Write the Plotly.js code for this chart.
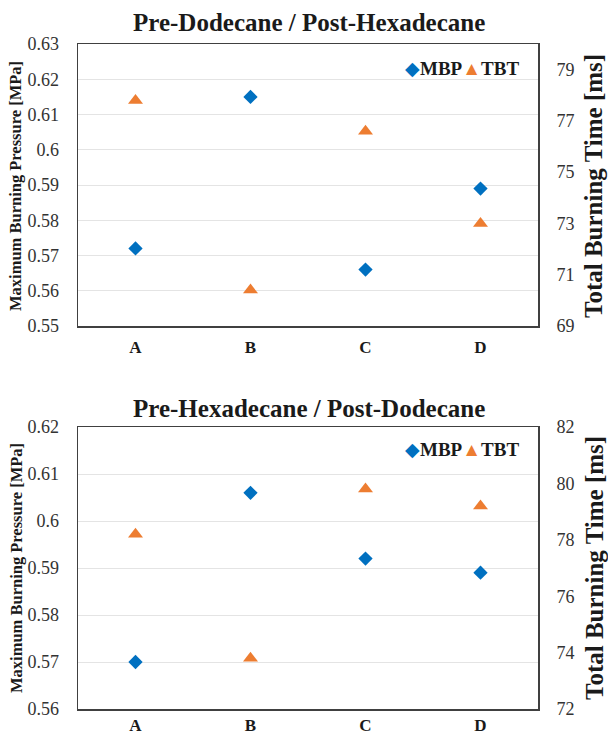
<!DOCTYPE html>
<html>
<head>
<meta charset="utf-8">
<script src="https://cdn.plot.ly/plotly-3.0.1.min.js"></script>
<style>html,body{margin:0;padding:0;background:#fff;}#chart{width:608px;height:738px;}</style>
</head>
<body>
<div id="chart"></div>
<script>
// ---- data ----
const categories = ['A', 'B', 'C', 'D'];
const topTitle = 'Pre-Dodecane / Post-Hexadecane';
const topMBP = [0.572, 0.615, 0.566, 0.589];
const topTBT = [77.8, 70.4, 76.6, 73.0];
const bottomTitle = 'Pre-Hexadecane / Post-Dodecane';
const bottomMBP = [0.570, 0.606, 0.592, 0.589];
const bottomTBT = [78.2, 73.8, 79.8, 79.2];
const topLeftTicks = [0.55, 0.56, 0.57, 0.58, 0.59, 0.6, 0.61, 0.62, 0.63];
const topLeftTickText = ['0.55', '0.56', '0.57', '0.58', '0.59', '0.6', '0.61', '0.62', '0.63'];
const topRightTicks = [69, 71, 73, 75, 77, 79];
const bottomLeftTicks = [0.56, 0.57, 0.58, 0.59, 0.6, 0.61, 0.62];
const bottomLeftTickText = ['0.56', '0.57', '0.58', '0.59', '0.6', '0.61', '0.62'];
const bottomRightTicks = [72, 74, 76, 78, 80, 82];
const seriesNames = ['MBP', 'TBT'];
const leftAxisTitle = 'Maximum Burning Pressure [MPa]';
const rightAxisTitle = 'Total Burning Time [ms]';

// ---- styles ----
const FONT = '"Liberation Serif", "Times New Roman", serif';
const BLUE = '#0070C0';
const ORANGE = '#ED7D31';
const FRAME = '#404040';
const GRID = '#E4E4E4';
const TXT = '#1a1a1a';

const W = 608, H = 738, L = 78, R = 70;
const pw = W - L - R;
const py = px => 1 - px / H;     // pixel y -> paper y
const pxp = px => (px - L) / pw; // pixel x -> paper x

const diamond = {symbol: 'diamond', size: 11, color: BLUE};
const tri = {symbol: 'triangle-up', size: 13, color: ORANGE};

const traces = [
  {x: categories, y: topMBP, xaxis: 'x', yaxis: 'y', type: 'scatter', mode: 'markers', name: seriesNames[0], marker: diamond, showlegend: false},
  {x: categories, y: topTBT, xaxis: 'x', yaxis: 'y2', type: 'scatter', mode: 'markers', name: seriesNames[1], marker: tri, showlegend: false},
  {x: categories, y: bottomMBP, xaxis: 'x2', yaxis: 'y3', type: 'scatter', mode: 'markers', name: seriesNames[0], marker: diamond, showlegend: false},
  {x: categories, y: bottomTBT, xaxis: 'x2', yaxis: 'y4', type: 'scatter', mode: 'markers', name: seriesNames[1], marker: tri, showlegend: false}
];

const topDom = [py(326), py(44)];
const botDom = [py(709), py(427)];

const tickFont = {family: FONT, size: 18, color: '#333333'};
const xBase = {
  type: 'category', range: [-0.5, 3.5], showgrid: false,
  showline: true, mirror: true, linecolor: FRAME, linewidth: 1.5,
  ticks: 'outside', ticklen: 5, tickcolor: 'rgba(0,0,0,0)',
  tickfont: {family: FONT, size: 17, color: TXT, weight: 'bold'},
  fixedrange: true, zeroline: false
};
const yLeftBase = {
  showgrid: true, gridcolor: GRID, gridwidth: 1, zeroline: false,
  showline: true, mirror: true, linecolor: FRAME, linewidth: 1.5,
  ticks: 'outside', ticklen: 14, tickcolor: 'rgba(0,0,0,0)',
  tickfont: tickFont, tickmode: 'array', fixedrange: true
};
const yRightBase = {
  side: 'right', showgrid: false, zeroline: false, showline: false,
  ticks: 'outside', ticklen: 14, tickcolor: 'rgba(0,0,0,0)',
  tickfont: tickFont, tickmode: 'array', fixedrange: true
};

const legendText = '<span style="color:' + BLUE + '">◆</span><b>' + seriesNames[0] + '</b>' +
                   '<span style="color:' + ORANGE + '">▲</span><b>' + seriesNames[1] + '</b>';

const layout = {
  width: W, height: H,
  margin: {l: L, r: R, t: 0, b: 0},
  paper_bgcolor: '#ffffff', plot_bgcolor: '#ffffff',
  showlegend: false,
  xaxis: Object.assign({}, xBase, {domain: [0, 1], anchor: 'y'}),
  yaxis: Object.assign({}, yLeftBase, {domain: topDom, anchor: 'x', range: [0.55, 0.63], tickvals: topLeftTicks, ticktext: topLeftTickText}),
  yaxis2: Object.assign({}, yRightBase, {overlaying: 'y', anchor: 'x', range: [69, 80], tickvals: topRightTicks}),
  xaxis2: Object.assign({}, xBase, {domain: [0, 1], anchor: 'y3', ticklen: 0}),
  yaxis3: Object.assign({}, yLeftBase, {domain: botDom, anchor: 'x2', range: [0.56, 0.62], tickvals: bottomLeftTicks, ticktext: bottomLeftTickText}),
  yaxis4: Object.assign({}, yRightBase, {overlaying: 'y3', anchor: 'x2', range: [72, 82], tickvals: bottomRightTicks}),
  annotations: [
    {text: '<b>' + topTitle + '</b>', xref: 'paper', yref: 'paper', x: pxp(309), y: py(22), showarrow: false, xanchor: 'center', yanchor: 'middle', font: {family: FONT, size: 25, color: TXT}},
    {text: '<b>' + bottomTitle + '</b>', xref: 'paper', yref: 'paper', x: pxp(309), y: py(408), showarrow: false, xanchor: 'center', yanchor: 'middle', font: {family: FONT, size: 25, color: TXT}},
    {text: legendText, xref: 'paper', yref: 'paper', x: pxp(462), y: py(68), showarrow: false, xanchor: 'center', yanchor: 'middle', font: {family: FONT, size: 19, color: TXT}},
    {text: legendText, xref: 'paper', yref: 'paper', x: pxp(462), y: py(449), showarrow: false, xanchor: 'center', yanchor: 'middle', font: {family: FONT, size: 19, color: TXT}},
    {text: '<b>' + leftAxisTitle + '</b>', xref: 'paper', yref: 'paper', x: pxp(16), y: py(186), textangle: -90, showarrow: false, xanchor: 'center', yanchor: 'middle', font: {family: FONT, size: 16.5, color: TXT}},
    {text: '<b>' + leftAxisTitle + '</b>', xref: 'paper', yref: 'paper', x: pxp(16), y: py(568), textangle: -90, showarrow: false, xanchor: 'center', yanchor: 'middle', font: {family: FONT, size: 16.5, color: TXT}},
    {text: '<b>' + rightAxisTitle + '</b>', xref: 'paper', yref: 'paper', x: pxp(594), y: py(186), textangle: -90, showarrow: false, xanchor: 'center', yanchor: 'middle', font: {family: FONT, size: 25, color: TXT}},
    {text: '<b>' + rightAxisTitle + '</b>', xref: 'paper', yref: 'paper', x: pxp(594), y: py(568), textangle: -90, showarrow: false, xanchor: 'center', yanchor: 'middle', font: {family: FONT, size: 25, color: TXT}}
  ]
};

Plotly.newPlot('chart', traces, layout, {displayModeBar: false, staticPlot: true});
</script>
</body>
</html>
